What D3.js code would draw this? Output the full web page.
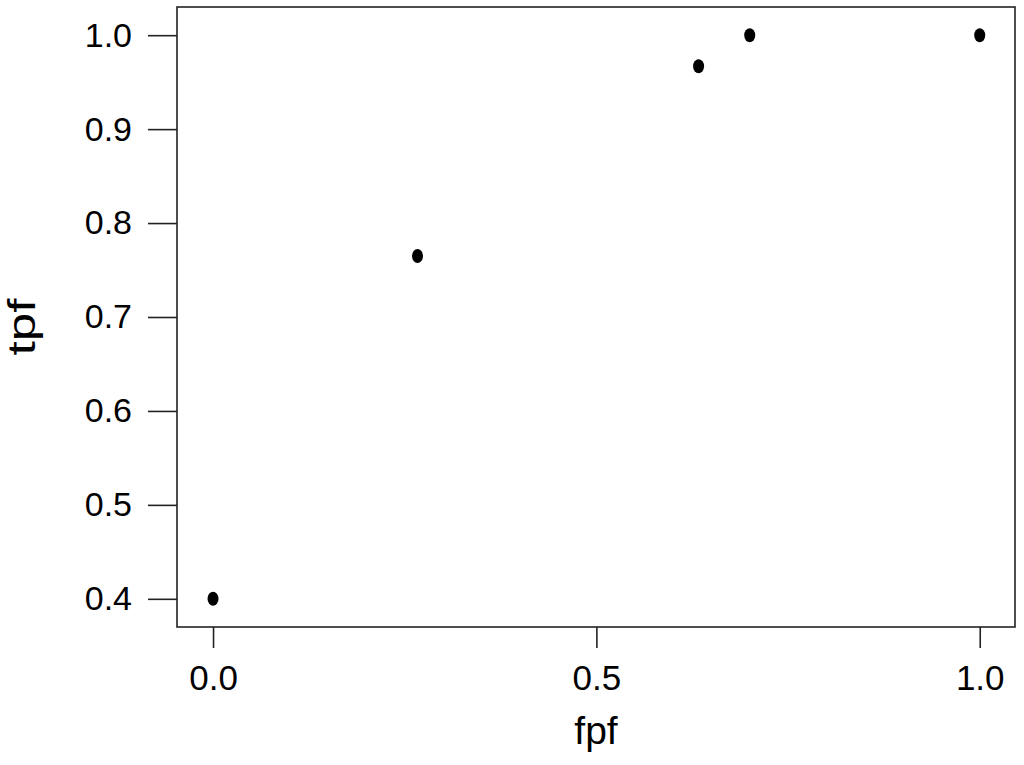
<!DOCTYPE html>
<html><head><meta charset="utf-8">
<script src="https://cdn.jsdelivr.net/npm/d3@7"></script>
<style>body{margin:0;background:#fff}svg{display:block}text{font-family:"Liberation Sans",Arial,sans-serif;fill:#000}</style>
</head><body><svg id="c" width="1024" height="765"></svg>
<script>
const fpf = [0, 0.2667, 0.6333, 0.7, 1.0];
const tpf = [0.4, 0.765, 0.967, 1.0, 1.0];
const xTicks = [0, 0.5, 1.0];
const yTicks = [0.4, 0.5, 0.6, 0.7, 0.8, 0.9, 1.0];

const svg = d3.select("#c");
const L = 177, R = 1015, T = 7, B = 627;
const x = d3.scaleLinear().domain([-0.047, 1.046]).range([L, R]);
const y = d3.scaleLinear().domain([0.37, 1.03]).range([B, T]);

svg.append("rect").attr("x", L).attr("y", T).attr("width", R - L).attr("height", B - T)
  .attr("fill", "none").attr("stroke", "#222").attr("stroke-width", 1.6);

const xa = svg.append("g").attr("transform", `translate(0,${B})`)
  .call(d3.axisBottom(x).tickValues(xTicks).tickFormat(d3.format(".1f")).tickSize(21).tickPadding(17));
xa.select(".domain").remove();
xa.selectAll("line").attr("stroke", "#222").attr("stroke-width", 1.6);
xa.selectAll("text").attr("font-size", 35).attr("font-family", '"Liberation Sans",Arial,sans-serif').attr("fill", "#000");

const ya = svg.append("g").attr("transform", `translate(${L},0)`)
  .call(d3.axisLeft(y).tickValues(yTicks).tickFormat(d3.format(".1f")).tickSize(29).tickPadding(16));
ya.select(".domain").remove();
ya.selectAll("line").attr("stroke", "#222").attr("stroke-width", 1.6);
ya.selectAll("text").attr("font-size", 34).attr("font-family", '"Liberation Sans",Arial,sans-serif').attr("fill", "#000");

svg.selectAll("ellipse.pt").data(fpf.map((d, i) => [d, tpf[i]])).enter().append("ellipse")
  .attr("class", "pt").attr("cx", d => x(d[0])).attr("cy", d => y(d[1]))
  .attr("rx", 5.5).attr("ry", 7).attr("fill", "#000");

svg.append("text").attr("x", (L + R) / 2).attr("y", 744).attr("text-anchor", "middle")
  .attr("font-size", 39).text("fpf");
svg.append("text").attr("transform", `translate(35,327) rotate(-90) scale(1.35,1)`).attr("text-anchor", "middle")
  .attr("font-size", 38).text("tpf");
</script></body></html>
